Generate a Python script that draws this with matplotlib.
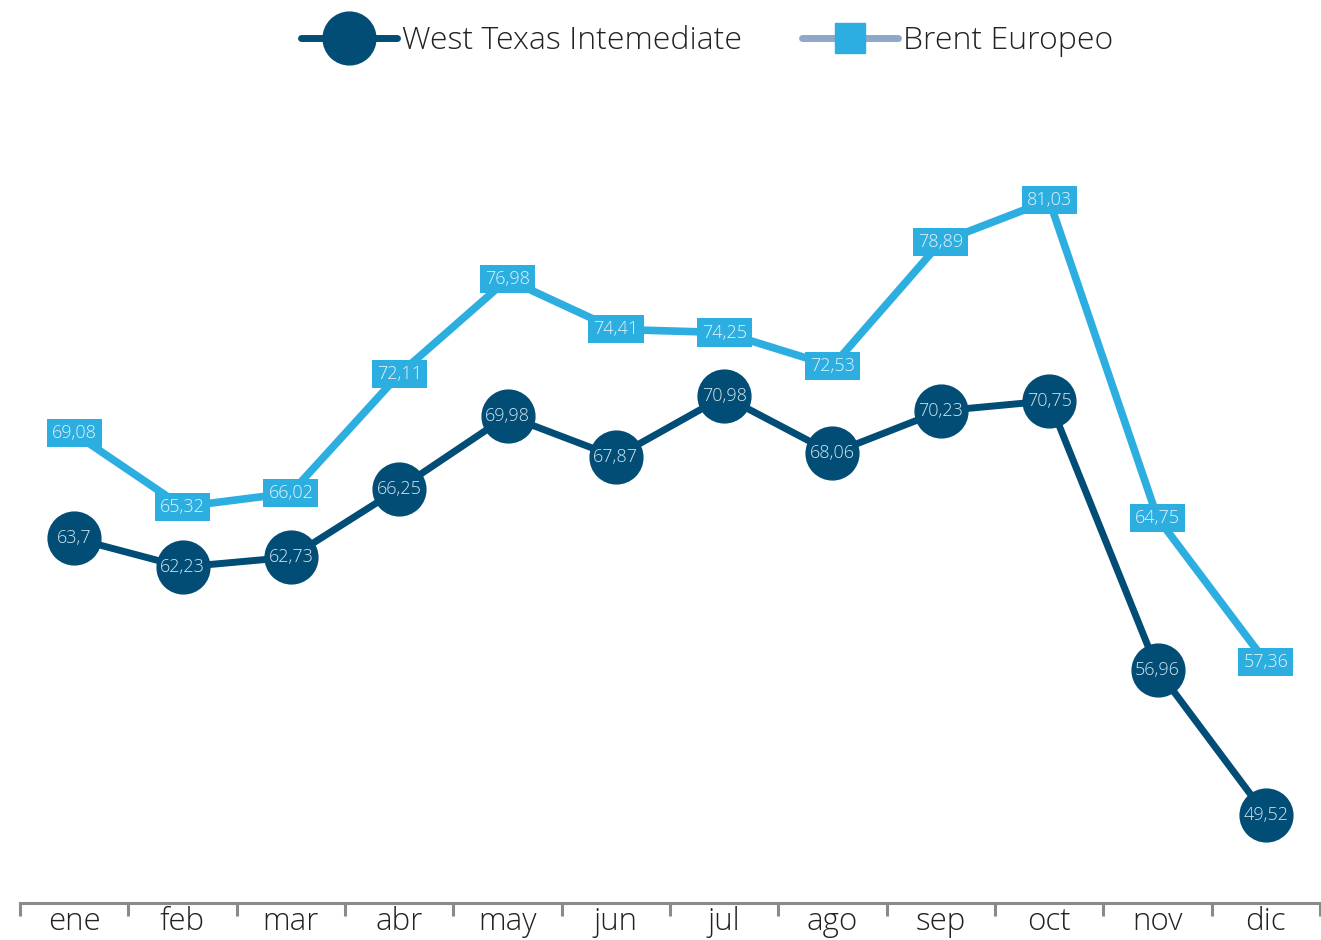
import matplotlib
matplotlib.use("Agg")
import matplotlib.pyplot as plt
from matplotlib.lines import Line2D
import numpy as np

months = ["ene", "feb", "mar", "abr", "may", "jun", "jul", "ago", "sep", "oct", "nov", "dic"]
wti = [63.7, 62.23, 62.73, 66.25, 69.98, 67.87, 70.98, 68.06, 70.23, 70.75, 56.96, 49.52]
brent = [69.08, 65.32, 66.02, 72.11, 76.98, 74.41, 74.25, 72.53, 78.89, 81.03, 64.75, 57.36]
wti_labels = ["63,7", "62,23", "62,73", "66,25", "69,98", "67,87", "70,98", "68,06", "70,23", "70,75", "56,96", "49,52"]
brent_labels = ["69,08", "65,32", "66,02", "72,11", "76,98", "74,41", "74,25", "72,53", "78,89", "81,03", "64,75", "57,36"]

WTI_C = "#014d75"
BRENT_C = "#2daee0"
BRENT_LEG = "#8fa7c9"
LBL_C = "#d3e6f1"
FONT = ["Open Sans", "DejaVu Sans"]

plt.rcParams['font.family'] = FONT

W, H = 1321, 940
fig = plt.figure(figsize=(W / 100, H / 100), dpi=100)
ax = fig.add_axes([20 / W, 1 - 903 / H, 1300 / W, 903 / H])
ax.set_xlim(-0.5, 11.5)
ax.set_ylim(45.0, 91.3)

x = np.arange(len(months))
ax.plot(x, brent, color=BRENT_C, lw=5.5, zorder=2, solid_joinstyle='miter')
ax.plot(x, wti, color=WTI_C, lw=5, zorder=3, marker='o', markersize=38,
        markerfacecolor=WTI_C, markeredgecolor=WTI_C)

for xi, v, s in zip(x, brent, brent_labels):
    ax.text(xi, v, s, ha='center', va='center', fontsize=13, color='#e4f3fa',
            fontweight='light', zorder=4,
            bbox=dict(boxstyle='square,pad=0.28', facecolor=BRENT_C, edgecolor='none'))
for xi, v, s in zip(x, wti, wti_labels):
    ax.text(xi, v, s, ha='center', va='center', fontsize=13, color=LBL_C,
            fontweight='light', zorder=5)

for sp in ['top', 'right', 'left']:
    ax.spines[sp].set_visible(False)
ax.spines['bottom'].set_color('#8a8a8a')
ax.spines['bottom'].set_linewidth(2.2)
ax.set_yticks([])
ax.set_xticks(x)
ax.set_xticklabels(months, fontsize=22.5, color='#222222', fontweight='light')
ax.tick_params(axis='x', which='major', length=0, pad=2.5)
ax.set_xticks(np.arange(-0.5, 12, 1), minor=True)
ax.tick_params(axis='x', which='minor', length=9, width=2.2, color='#8a8a8a', direction='out')

handles = [
    Line2D([0], [0], color=WTI_C, lw=5, marker='o', markersize=38,
           markerfacecolor=WTI_C, markeredgecolor=WTI_C, solid_capstyle='round'),
    Line2D([0], [0], color=BRENT_LEG, lw=5, marker='s', markersize=21,
           markerfacecolor=BRENT_C, markeredgecolor=BRENT_C, solid_capstyle='round'),
]
leg = fig.legend(handles, ["West Texas Intemediate", "Brent Europeo"],
                 loc='center', bbox_to_anchor=(707 / W, 1 - 41 / H), ncol=2,
                 frameon=False, handlelength=3.0, handletextpad=0.15,
                 columnspacing=1.9, prop={'family': FONT, 'size': 23, 'weight': 'light'})
for t in leg.get_texts():
    t.set_color('#222222')

fig.savefig("out.png", dpi=100)
